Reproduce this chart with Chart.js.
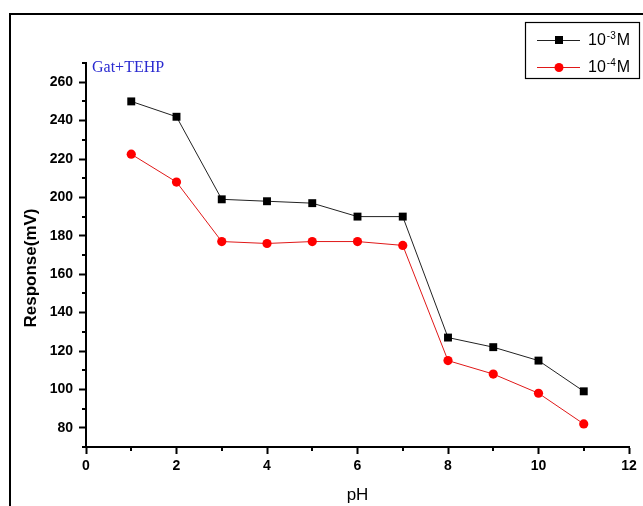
<!DOCTYPE html>
<html>
<head>
<meta charset="utf-8">
<script src="https://cdn.jsdelivr.net/npm/chart.js@4"></script>
<style>
  html, body { margin: 0; padding: 0; background: #fff; }
  #wrap { width: 643px; height: 506px; position: relative; }
</style>
</head>
<body>
<div id="wrap"><canvas id="myChart"></canvas></div>
<script>
// values
const phValues = [1, 2, 3, 4, 5, 6, 7, 8, 9, 10, 11];
const resp1e3 = [250, 242, 199, 198, 197, 190, 190, 127, 122, 115, 99];
const resp1e4 = [222.5, 208, 177, 176, 177, 177, 175, 115, 108, 98, 82];

const xMajorTicks = [0, 2, 4, 6, 8, 10, 12];
const xMinorTicks = [1, 3, 5, 7, 9, 11];
const yMajorTicks = [80, 100, 120, 140, 160, 180, 200, 220, 240, 260];
const yMinorTicks = [70, 90, 110, 130, 150, 170, 190, 210, 230, 250, 270];

const legendExp = ['-3', '-4'];
const annotation = 'Gat+TEHP';

const tickFont = { family: "'Liberation Sans', Arial, sans-serif", size: 14, weight: 'bold' };

function toPoints(xs, ys) {
  return xs.map((x, i) => ({ x: x, y: ys[i] }));
}

// frame, minor ticks, axis titles, annotation and legend
const decoPlugin = {
  id: 'deco',
  afterDraw(chart) {
    const ctx = chart.ctx;
    const xs = chart.scales.x, ys = chart.scales.y;
    const area = chart.chartArea;
    ctx.save();

    // outer frame (right and bottom run off the picture)
    ctx.strokeStyle = '#000';
    ctx.lineWidth = 2;
    ctx.strokeRect(10, 14, 700, 600);

    // minor ticks
    ctx.lineWidth = 2;
    ctx.beginPath();
    yMinorTicks.forEach(v => {
      const py = Math.round(ys.getPixelForValue(v));
      ctx.moveTo(area.left - 4, py);
      ctx.lineTo(area.left, py);
    });
    xMinorTicks.forEach(v => {
      const px = Math.round(xs.getPixelForValue(v));
      ctx.moveTo(px, area.bottom);
      ctx.lineTo(px, area.bottom + 4);
    });
    ctx.stroke();

    // axis titles
    ctx.fillStyle = '#000';
    ctx.textAlign = 'center';
    ctx.textBaseline = 'middle';
    ctx.font = "bold 17px 'Liberation Sans', Arial, sans-serif";
    ctx.save();
    ctx.translate(31, 268);
    ctx.rotate(-Math.PI / 2);
    ctx.fillText('Response(mV)', 0, 0);
    ctx.restore();
    ctx.font = "17px 'Liberation Sans', Arial, sans-serif";
    ctx.fillText('pH', (area.left + area.right) / 2, 495);

    // annotation
    ctx.textAlign = 'left';
    ctx.textBaseline = 'alphabetic';
    ctx.fillStyle = '#2a2ad0';
    ctx.font = "16px 'Liberation Serif', 'Times New Roman', serif";
    ctx.fillText(annotation, 92, 72);

    // legend
    const bx = 525, by = 22, bw = 114, bh = 56;
    ctx.lineWidth = 1.2;
    ctx.strokeStyle = '#000';
    ctx.strokeRect(bx + 0.5, by + 0.5, bw, bh);
    const rows = [40, 67];
    chart.data.datasets.forEach((ds, i) => {
      const y = rows[i];
      ctx.strokeStyle = ds.borderColor;
      ctx.lineWidth = 1;
      ctx.beginPath();
      ctx.moveTo(537, y + 0.5);
      ctx.lineTo(580, y + 0.5);
      ctx.stroke();
      ctx.fillStyle = ds.pointBackgroundColor;
      if (ds.pointStyle === 'rect') {
        ctx.fillRect(555, y - 4, 8, 8);
      } else {
        ctx.beginPath();
        ctx.arc(559, y + 0.5, 4.5, 0, Math.PI * 2);
        ctx.fill();
      }
      ctx.fillStyle = '#000';
      ctx.textBaseline = 'middle';
      ctx.font = "16px 'Liberation Sans', Arial, sans-serif";
      let tx = 588;
      ctx.fillText('10', tx, y + 1);
      tx += ctx.measureText('10').width + 1;
      ctx.font = "10px 'Liberation Sans', Arial, sans-serif";
      ctx.fillText(legendExp[i], tx, y - 4);
      tx += ctx.measureText(legendExp[i]).width + 1;
      ctx.font = "16px 'Liberation Sans', Arial, sans-serif";
      ctx.fillText('M', tx, y + 1);
    });

    ctx.restore();
  }
};

const ctx = document.getElementById('myChart').getContext('2d');
const myChart = new Chart(ctx, {
  type: 'line',
  data: {
    datasets: [
      {
        label: '10-3 M',
        data: toPoints(phValues, resp1e3),
        borderColor: '#222',
        borderWidth: 1,
        pointStyle: 'rect',
        pointRadius: 5.6,
        pointBackgroundColor: '#000',
        pointBorderWidth: 0,
        tension: 0
      },
      {
        label: '10-4 M',
        data: toPoints(phValues, resp1e4),
        borderColor: '#e01818',
        borderWidth: 1,
        pointStyle: 'circle',
        pointRadius: 4.6,
        pointBackgroundColor: '#f00',
        pointBorderWidth: 0,
        tension: 0
      }
    ]
  },
  options: {
    responsive: true,
    maintainAspectRatio: false,
    animation: false,
    layout: { padding: { top: 63, right: 14, left: 0, bottom: 0 } },
    plugins: {
      legend: { display: false },
      tooltip: { enabled: false }
    },
    scales: {
      x: {
        type: 'linear',
        min: 0,
        max: 12,
        afterBuildTicks: s => { s.ticks = xMajorTicks.map(v => ({ value: v })); },
        afterFit: s => { s.height = 59; },
        border: { display: true, color: '#000', width: 2 },
        grid: { drawOnChartArea: false, drawTicks: true, tickLength: 7, tickColor: '#000', tickWidth: 2 },
        ticks: { color: '#000', font: tickFont, padding: 4, maxRotation: 0 }
      },
      y: {
        type: 'linear',
        min: 70,
        max: 270,
        afterBuildTicks: s => { s.ticks = yMajorTicks.map(v => ({ value: v })); },
        afterFit: s => { s.width = 86; },
        border: { display: true, color: '#000', width: 2 },
        grid: { drawOnChartArea: false, drawTicks: true, tickLength: 7, tickColor: '#000', tickWidth: 2 },
        ticks: { color: '#000', font: tickFont, padding: 6 }
      }
    }
  },
  plugins: [decoPlugin]
});
</script>
</body>
</html>
